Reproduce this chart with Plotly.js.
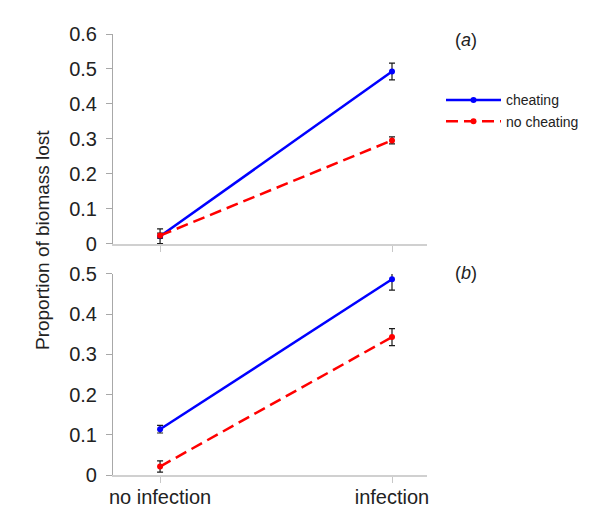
<!DOCTYPE html>
<html>
<head>
<meta charset="utf-8">
<script src="https://cdn.plot.ly/plotly-3.0.1.min.js"></script>
<style>
  html, body { margin: 0; padding: 0; background: #fff; }
  #chart { width: 600px; height: 524px; }
</style>
</head>
<body>
<div id="chart"></div>
<script>
const conditions = ['no infection', 'infection'];

// panel (a)
const cheatA = [0.022, 0.493];
const cheatAErr = [0.021, 0.024];
const noCheatA = [0.024, 0.296];
const noCheatAErr = [0.007, 0.010];

// panel (b)
const cheatB = [0.114, 0.487];
const cheatBErr = [0.0095, 0.027];
const noCheatB = [0.021, 0.343];
const noCheatBErr = [0.014, 0.021];

const FONT = 'Liberation Sans, Arial, sans-serif';
const COLORS = {cheat: '#0000ff', noCheat: '#ff0000', err: '#1a1a1a'};

function makeTrace(y, err, name, color, dash, xa, ya, showLegend) {
    return {
        x: conditions,
        y: y,
        type: 'scatter',
        mode: 'lines+markers',
        name: name,
        legendgroup: name,
        showlegend: showLegend,
        xaxis: xa,
        yaxis: ya,
        line: {color: color, width: 2.5, dash: dash},
        marker: {color: color, size: 6},
        error_y: {type: 'data', array: err, visible: true, color: COLORS.err, thickness: 1.2, width: 3}
    };
}

const traces = [
    makeTrace(cheatA, cheatAErr, 'cheating', COLORS.cheat, 'solid', 'x2', 'y2', true),
    makeTrace(noCheatA, noCheatAErr, 'no cheating', COLORS.noCheat, '12px,6px', 'x2', 'y2', true),
    makeTrace(cheatB, cheatBErr, 'cheating', COLORS.cheat, 'solid', 'x', 'y', false),
    makeTrace(noCheatB, noCheatBErr, 'no cheating', COLORS.noCheat, '12px,6px', 'x', 'y', false)
];

const xDomain = [0.1883, 0.7117];
const xRange = [-0.203, 1.151];

const xBase = {
    domain: xDomain,
    range: xRange,
    type: 'category',
    showgrid: false,
    zeroline: false,
    showline: true,
    linecolor: '#d0d0d0',
    linewidth: 2,
    ticks: 'outside',
    ticklen: 6,
    tickcolor: '#c8c8c8',
    ticklabelstandoff: -3,
    tickfont: {family: FONT, size: 20, color: '#222'}
};

const yBase = {
    dtick: 0.1,
    showgrid: false,
    zeroline: false,
    showline: true,
    linecolor: '#a8a8a8',
    linewidth: 1,
    ticks: 'outside',
    ticklen: 6,
    tickcolor: '#a8a8a8',
    ticklabelstandoff: 5,
    tickfont: {family: FONT, size: 20, color: '#222'}
};

const layout = {
    width: 600,
    height: 524,
    margin: {l: 0, r: 0, t: 0, b: 0},
    paper_bgcolor: '#fff',
    plot_bgcolor: '#fff',
    font: {family: FONT, color: '#222'},
    xaxis: Object.assign({}, xBase, {anchor: 'y'}),
    xaxis2: Object.assign({}, xBase, {anchor: 'y2', showticklabels: false}),
    yaxis: Object.assign({}, yBase, {domain: [0.0935, 0.4771], range: [0, 0.5], anchor: 'x'}),
    yaxis2: Object.assign({}, yBase, {domain: [0.5344, 0.9351], range: [0, 0.6], anchor: 'x2'}),
    legend: {
        x: 0.735, y: 0.839, xanchor: 'left', yanchor: 'top',
        itemwidth: 55,
        font: {family: FONT, size: 14, color: '#222'},
        bgcolor: 'rgba(0,0,0,0)',
        tracegroupgap: 0
    },
    annotations: [
        {text: 'Proportion of biomass lost', textangle: -90, xref: 'paper', yref: 'paper',
         x: 0.0717, y: 0.542, xanchor: 'center', yanchor: 'middle', showarrow: false,
         font: {family: FONT, size: 19, color: '#222'}},
        {text: '(<i>a</i>)', xref: 'paper', yref: 'paper', x: 0.777, y: 0.9237,
         xanchor: 'center', yanchor: 'middle', showarrow: false,
         font: {family: FONT, size: 18, color: '#222'}},
        {text: '(<i>b</i>)', xref: 'paper', yref: 'paper', x: 0.777, y: 0.479,
         xanchor: 'center', yanchor: 'middle', showarrow: false,
         font: {family: FONT, size: 18, color: '#222'}}
    ]
};

Plotly.newPlot('chart', traces, layout, {displayModeBar: false, staticPlot: true});
</script>
</body>
</html>
